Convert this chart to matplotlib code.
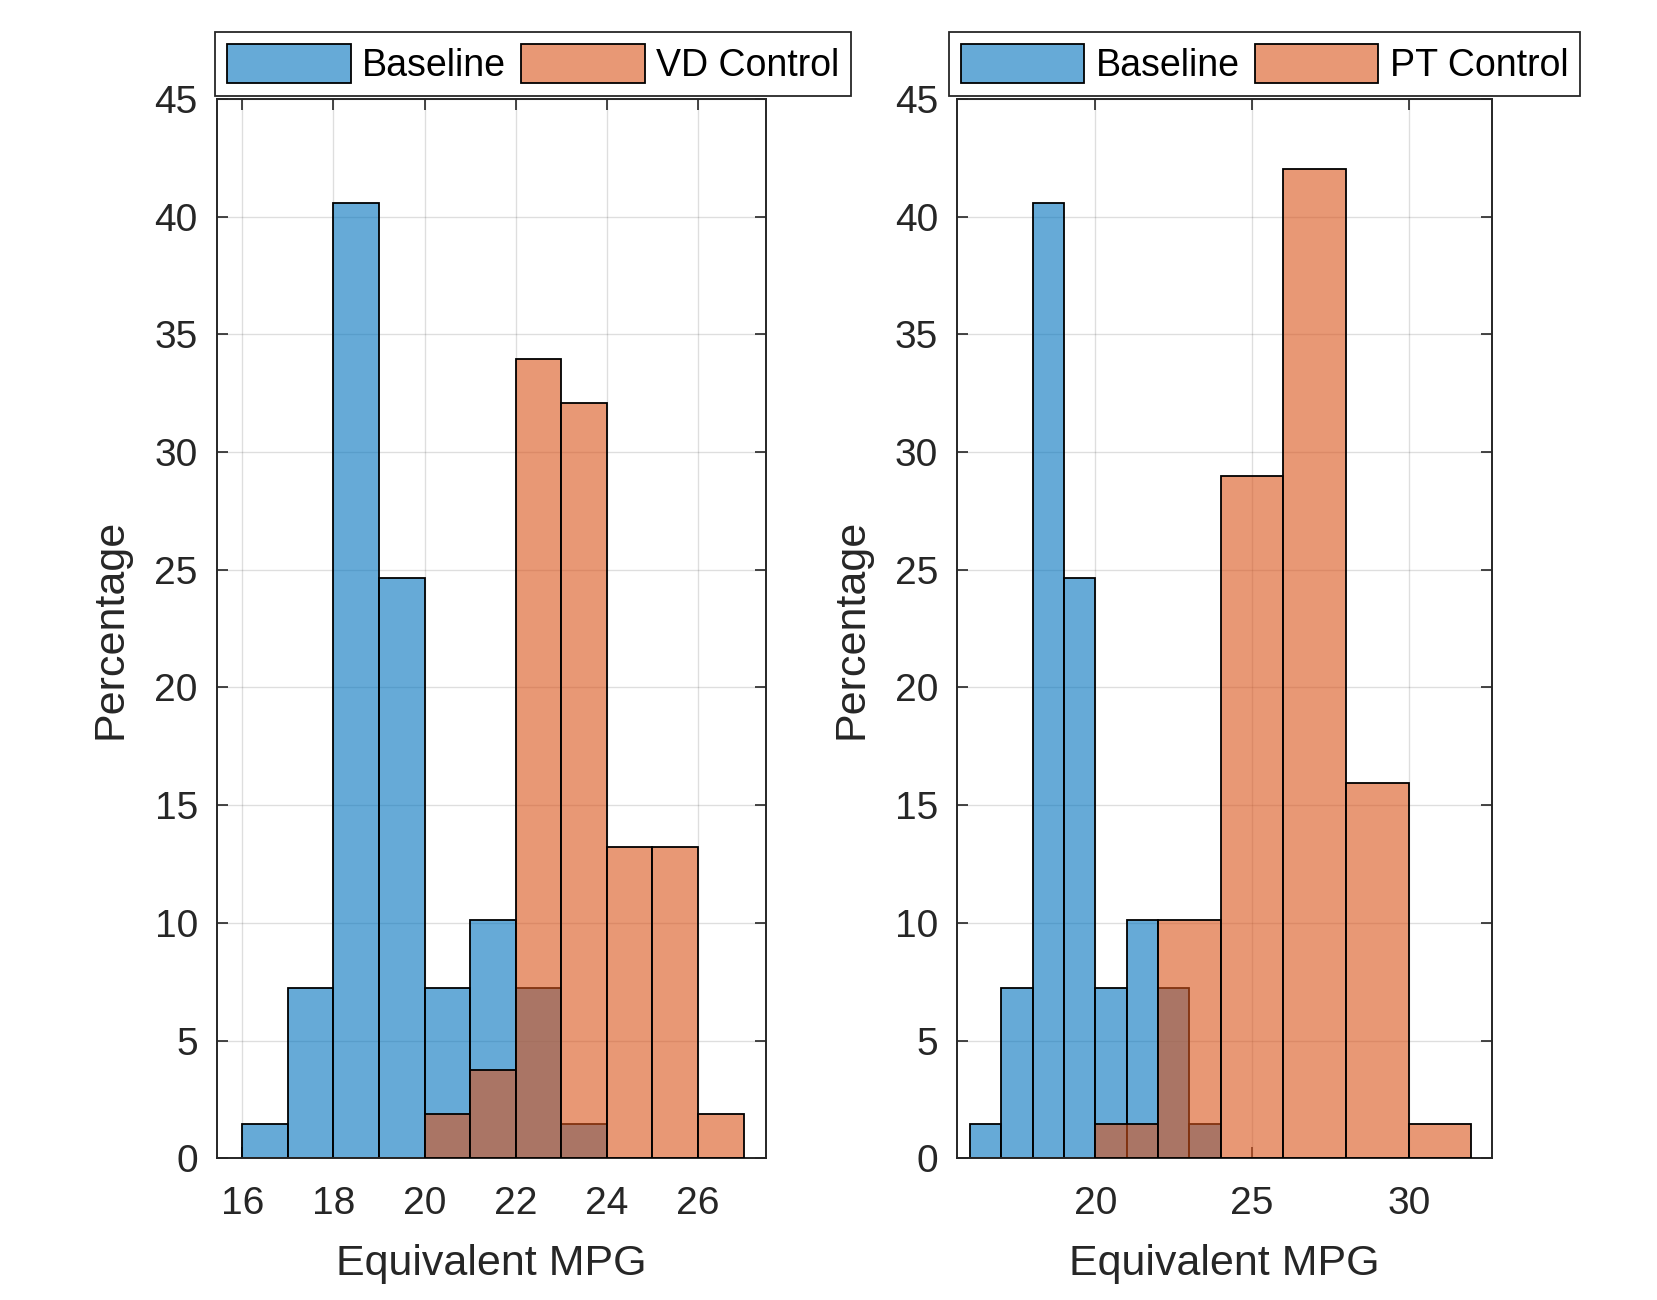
import matplotlib
matplotlib.use('Agg')
import matplotlib.pyplot as plt
import numpy as np

plt.rcParams['font.family'] = ['Liberation Sans', 'DejaVu Sans']

# ---- data (percentages) ----
base_edges = [16, 17, 18, 19, 20, 21, 22, 23, 24]
base_pct = [1.45, 7.25, 40.58, 24.64, 7.25, 10.14, 7.25, 1.45]

vd_edges = [20, 21, 22, 23, 24, 25, 26, 27]
vd_pct = [1.89, 3.77, 33.96, 32.08, 13.21, 13.21, 1.89]

pt_edges = [20, 22, 24, 26, 28, 30, 32]
pt_pct = [1.45, 10.14, 28.99, 42.03, 15.94, 1.45]

left_xticks = [16, 18, 20, 22, 24, 26]
right_xticks = [20, 25, 30]
yticks = [0, 5, 10, 15, 20, 25, 30, 35, 40, 45]

BLUE = (0.0, 0.447, 0.741, 0.6)
ORANGE = (0.85, 0.325, 0.098, 0.6)
TXT = '#262626'

fig = plt.figure(figsize=(16.58, 13.0), dpi=100)
ax1 = fig.add_axes([0.131, 0.109, 0.3312, 0.815])
ax2 = fig.add_axes([0.5775, 0.109, 0.3222, 0.815])


def draw(ax, edges2, pct2, label2, xlim, xticks, leg_x):
    e1 = np.array(base_edges, dtype=float)
    b1 = ax.bar(e1[:-1], base_pct, width=np.diff(e1), align='edge',
                facecolor=BLUE, edgecolor='black', linewidth=1.3,
                label='Baseline', zorder=2)
    e2 = np.array(edges2, dtype=float)
    b2 = ax.bar(e2[:-1], pct2, width=np.diff(e2), align='edge',
                facecolor=ORANGE, edgecolor='black', linewidth=1.3,
                label=label2, zorder=3)
    ax.set_xlim(*xlim)
    ax.set_ylim(0, 45)
    ax.set_xticks(xticks)
    ax.set_yticks(yticks)
    ax.set_axisbelow(True)
    ax.grid(True, color='#262626', alpha=0.15, linewidth=1.0)
    ax.tick_params(axis='both', which='both', direction='in', top=True,
                   right=True, length=8, width=1.2, colors=TXT,
                   labelsize=28)
    ax.tick_params(axis='x', pad=20)
    ax.tick_params(axis='y', pad=14)
    for s in ax.spines.values():
        s.set_color(TXT)
        s.set_linewidth(1.4)
    ax.set_xlabel('Equivalent MPG', fontsize=31, color=TXT, labelpad=16)
    ax.set_ylabel('Percentage', fontsize=31, color=TXT, labelpad=17)
    leg = ax.legend(handles=[b1, b2], loc='lower left',
                    bbox_to_anchor=(leg_x, 0.9262),
                    bbox_transform=fig.transFigure, ncol=2, frameon=True,
                    fancybox=False, fontsize=27, handlelength=3.3,
                    handleheight=1.2, columnspacing=0.4, handletextpad=0.3,
                    borderpad=0.32, borderaxespad=0)
    fr = leg.get_frame()
    fr.set_edgecolor(TXT)
    fr.set_linewidth(1.3)
    fr.set_alpha(1)
    for t in leg.get_texts():
        t.set_color('black')


draw(ax1, vd_edges, vd_pct, 'VD Control', (15.45, 27.5), left_xticks, 0.1298)
draw(ax2, pt_edges, pt_pct, 'PT Control', (15.6, 32.65), right_xticks, 0.5722)

fig.savefig('out.png', dpi=100)
